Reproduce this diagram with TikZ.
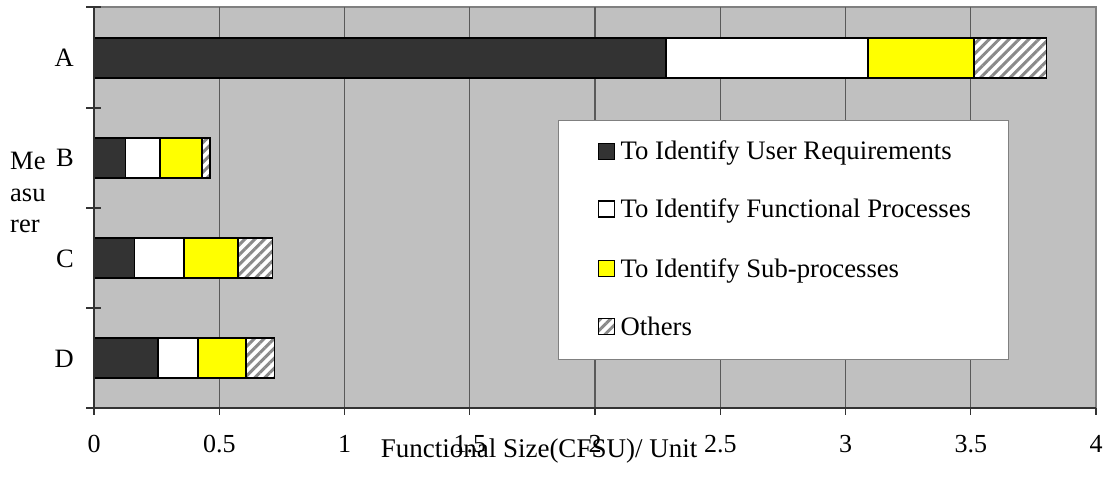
\documentclass[tikz,border=0pt]{standalone}
\usepackage{fontspec}
\setmainfont{Liberation Serif}
\usetikzlibrary{patterns.meta}
\definecolor{plotbg}{HTML}{C0C0C0}
\definecolor{bardark}{HTML}{333333}
\definecolor{baryel}{HTML}{FFFF00}
\definecolor{gridc}{HTML}{5A5A5A}
\definecolor{framec}{HTML}{808080}
\definecolor{hatchc}{HTML}{8A8A8A}
\tikzset{
  barseg/.style={draw=black, line width=1.5pt},
  darkseg/.style={barseg, fill=bardark},
  whiteseg/.style={barseg, fill=white},
  yelseg/.style={barseg, fill=baryel},
  hatchseg/.style={barseg, preaction={fill=white}, pattern={Lines[angle=45,distance=7pt,line width=3pt]}, pattern color=hatchc},
  gridline/.style={draw=gridc, line width=1.3pt},
  axisline/.style={draw=black!80, line width=1.4pt},
  ticklbl/.style={font=\fontsize{26}{30}\selectfont, anchor=base, inner sep=0pt},
  catlbl/.style={font=\fontsize{26.5}{30}\selectfont, anchor=base east, inner sep=0pt},
  leglbl/.style={font=\fontsize{26.7}{30}\selectfont, anchor=base west, inner sep=0pt},
  legsq/.style={draw=black, line width=1.4pt, minimum width=16pt, minimum height=16pt, inner sep=0pt, anchor=south west},
}
\begin{document}
\begin{tikzpicture}[x=1pt, y=-1pt]
\useasboundingbox (0,0) rectangle (1108,484);
\fill[white] (0,0) rectangle (1108,484);
% plot area
\fill[plotbg] (94,7) rectangle (1096,408);
\draw[draw=framec, line width=1.5pt] (94,7) -- (1096,7) -- (1096,408);
\begin{scope}[shift={(94,0)}, x=250.5pt]
  \foreach \g in {0.5,1,...,3.5} {
    \draw[gridline] (\g,7) -- (\g,408);
  }
  % bars
  % A
  \draw[darkseg]  (0,38) rectangle (2.283,78);
  \draw[whiteseg] (2.283,38) rectangle (3.090,78);
  \draw[yelseg]   (3.090,38) rectangle (3.513,78);
  \draw[hatchseg] (3.513,38) rectangle (3.803,78);
  % B
  \draw[darkseg]  (0,138) rectangle (0.126,178);
  \draw[whiteseg] (0.126,138) rectangle (0.263,178);
  \draw[yelseg]   (0.263,138) rectangle (0.431,178);
  \draw[hatchseg] (0.431,138) rectangle (0.464,178);
  % C
  \draw[darkseg]  (0,238) rectangle (0.161,278);
  \draw[whiteseg] (0.161,238) rectangle (0.359,278);
  \draw[yelseg]   (0.359,238) rectangle (0.575,278);
  \draw[hatchseg] (0.575,238) rectangle (0.712,278);
  % D
  \draw[darkseg]  (0,338) rectangle (0.255,378);
  \draw[whiteseg] (0.255,338) rectangle (0.416,378);
  \draw[yelseg]   (0.416,338) rectangle (0.607,378);
  \draw[hatchseg] (0.607,338) rectangle (0.720,378);
  % x axis
  \draw[axisline] (0,408) -- (4,408);
  \foreach \t/\l in {0/0,0.5/0.5,1/1,1.5/1.5,2/2,2.5/2.5,3/3,3.5/3.5,4/4} {
    \draw[axisline] (\t,408) -- (\t,415);
    \node[ticklbl] (xt\l) at (\t,452) {\l};
  }
\end{scope}
% y axis
\draw[axisline] (94,7) -- (94,408);
\foreach \yy in {7,108,208,308,408} {
  \draw[axisline] (86,\yy) -- (101,\yy);
}
% category labels
\node[catlbl] (catA) at (74,67) {A};
\node[catlbl] (catB) at (74,167) {B};
\node[catlbl] (catC) at (74,267) {C};
\node[catlbl] (catD) at (74,367) {D};
% axis titles
\node[ticklbl, font=\fontsize{27}{30}\selectfont] (xtitle) at (539,457) {Functional Size(CFSU)/ Unit};
\node[catlbl, anchor=base west] (yt1) at (10,169) {Me};
\node[catlbl, anchor=base west] (yt2) at (10,201) {asu};
\node[catlbl, anchor=base west] (yt3) at (10,232) {rer};
% legend
\node[draw=framec, fill=white, line width=1.3pt, minimum width=450pt, minimum height=239pt, inner sep=0pt, anchor=north west] (legend) at (558,120) {};
\node[legsq, fill=bardark] (sq1) at (598,160) {};
\node[legsq, fill=white] (sq2) at (598,217.5) {};
\node[legsq, fill=baryel] (sq3) at (598,277) {};
\node[legsq, preaction={fill=white}, pattern={Lines[angle=45,distance=7pt,line width=3pt]}, pattern color=hatchc] (sq4) at (598,335) {};
\node[leglbl] (lg1) at (620.5,160) {To Identify User Requirements};
\node[leglbl] (lg2) at (620.5,217.5) {To Identify Functional Processes};
\node[leglbl] (lg3) at (620.5,277) {To Identify Sub-processes};
\node[leglbl] (lg4) at (620.5,335) {Others};
\end{tikzpicture}
\end{document}
